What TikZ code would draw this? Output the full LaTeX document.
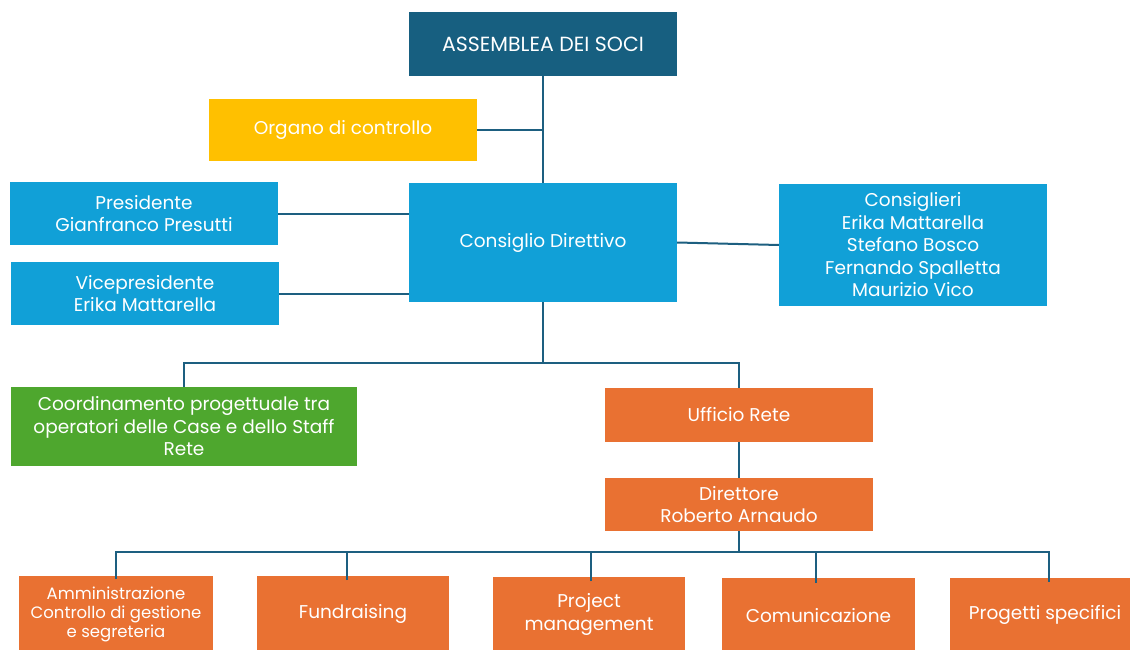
\documentclass[tikz,border=0pt]{standalone}
\usepackage{fontspec}
\setmainfont{Poppins}
\definecolor{dkblue}{HTML}{175F80}
\definecolor{lnblue}{HTML}{1D5F80}
\definecolor{ltblue}{HTML}{11A0D7}
\definecolor{yel}{HTML}{FFC000}
\definecolor{grn}{HTML}{4EA72E}
\definecolor{org}{HTML}{E97132}
\begin{document}
\begin{tikzpicture}[x=1pt,y=-1pt,
  box/.style={inner sep=0pt, text=white, align=center, font=\fontsize{18.5}{22.5}\selectfont},
  small/.style={font=\fontsize{16.5}{19}\selectfont},
  big/.style={font=\fontsize{20.5}{24}\selectfont},
  ln/.style={draw=lnblue, line width=2pt}]
\useasboundingbox (0,0) rectangle (1130,650);
\node[box, big, fill=dkblue, minimum width=268, minimum height=64] (ass) at (543,44) {ASSEMBLEA DEI SOCI};
\node[box, fill=yel, minimum width=268, minimum height=62] (oc) at (343,130) {Organo di controllo};
\node[box, fill=ltblue, minimum width=268, minimum height=63] (pres) at (144,213.5) {Presidente\\Gianfranco Presutti};
\node[box, fill=ltblue, minimum width=268, minimum height=63] (vice) at (145,293.5) {Vicepresidente\\Erika Mattarella};
\node[box, fill=ltblue, minimum width=268, minimum height=119] (cd) at (543,242.5) {Consiglio Direttivo};
\node[box, fill=ltblue, minimum width=268, minimum height=122] (cons) at (913,245) {Consiglieri\\Erika Mattarella\\Stefano Bosco\\Fernando Spalletta\\Maurizio Vico};
\node[box, fill=grn, minimum width=346, minimum height=79] (coord) at (184,426.5) {Coordinamento progettuale tra\\operatori delle Case e dello Staff\\Rete};
\node[box, fill=org, minimum width=268, minimum height=54] (uff) at (739,415) {Ufficio Rete};
\node[box, fill=org, minimum width=268, minimum height=53] (dir) at (739,504.5) {Direttore\\Roberto Arnaudo};
\node[box, small, fill=org, minimum width=194, minimum height=76, anchor=north] (amm) at (116,576) {Amministrazione\\Controllo di gestione\\e segreteria};
\node[box, fill=org, minimum width=192, minimum height=76, anchor=north] (fund) at (353,576) {Fundraising};
\node[box, fill=org, minimum width=192, minimum height=75, anchor=north] (pm) at (589,577) {Project\\management};
\node[box, fill=org, minimum width=193, minimum height=74, anchor=north] (com) at (818.5,578) {Comunicazione};
\node[box, fill=org, minimum width=190, minimum height=74, anchor=north] (ps) at (1045,578) {Progetti specifici};
% connectors
\draw[ln] (ass.south) -- (cd.north);
\draw[ln] (oc.east) -- (oc.east -| ass.south);
\draw[ln] (pres.east) -- (pres.east -| cd.west);
\draw[ln] (vice.east) -- (vice.east -| cd.west);
\draw[ln] (cd.east) -- (cons.west);
\coordinate (b1) at (543,363);
\draw[ln] (cd.south) -- (b1);
\draw[ln] (coord.north) -- (coord.north |- b1) -- (uff.north |- b1) -- (uff.north);
\draw[ln] (uff.south) -- (dir.north);
\coordinate (b2) at (739,552);
\draw[ln] (dir.south) -- (b2);
\draw[ln] ([yshift=-3pt]amm.north) -- (amm.north |- b2) -- ([xshift=4pt]ps.north |- b2) -- ([xshift=4pt,yshift=-4pt]ps.north);
\draw[ln] ([xshift=-6pt,yshift=-4pt]fund.north) -- ([xshift=-6pt]fund.north |- b2);
\draw[ln] ([xshift=2pt,yshift=-4pt]pm.north) -- ([xshift=2pt]pm.north |- b2);
\draw[ln] ([xshift=-3pt,yshift=-5pt]com.north) -- ([xshift=-3pt]com.north |- b2);
\end{tikzpicture}
\end{document}
